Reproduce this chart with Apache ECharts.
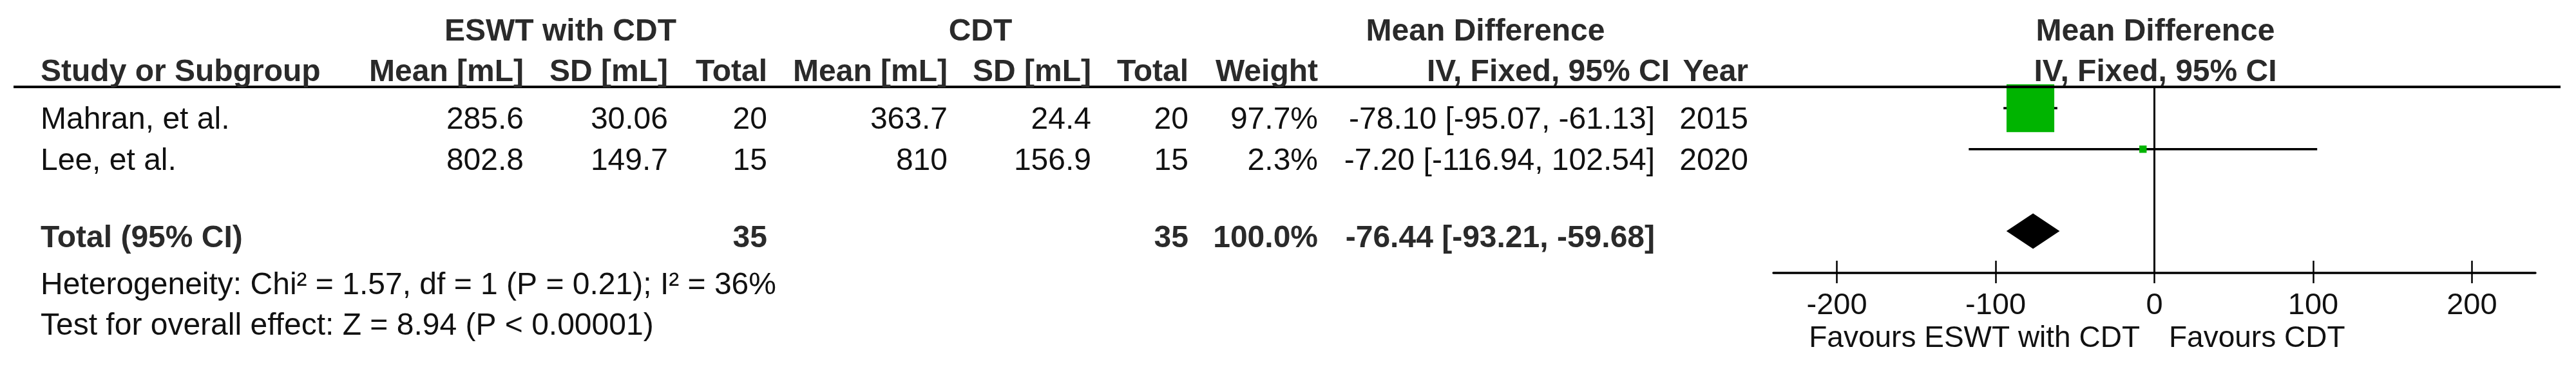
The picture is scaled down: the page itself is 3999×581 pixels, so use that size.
<!DOCTYPE html>
<html><head><meta charset="utf-8">
<script src="https://cdn.jsdelivr.net/npm/echarts@6/dist/echarts.min.js"></script>
<style>html,body{margin:0;padding:0;background:#fff;overflow:hidden}#c{width:3999px;height:581px}</style>
</head><body><div id="c"></div>
<script>
// ---- data ----
const studies = ['Mahran, et al.', 'Lee, et al.'];
const expMean = [285.6, 802.8];
const expSD = [30.06, 149.7];
const expTotal = [20, 15];
const ctrlMean = [363.7, 810];
const ctrlSD = [24.4, 156.9];
const ctrlTotal = [20, 15];
const weight = [97.7, 2.3];
const md = [-78.10, -7.20];
const ciLow = [-95.07, -116.94];
const ciHigh = [-61.13, 102.54];
const years = [2015, 2020];
const totalLabel = 'Total (95% CI)';
const totalExp = 35;
const totalCtrl = 35;
const totalWeight = 100.0;
const pooled = [-76.44, -93.21, -59.68]; // estimate, low, high
const heterogeneity = 'Heterogeneity: Chi\u00b2 = 1.57, df = 1 (P = 0.21); I\u00b2 = 36%';
const overallEffect = 'Test for overall effect: Z = 8.94 (P < 0.00001)';
const tickValues = [-200, -100, 0, 100, 200];
const favourLeft = 'Favours ESWT with CDT';
const favourRight = 'Favours CDT';

// ---- layout ----
const FONT = '"Liberation Sans", Arial, Helvetica, sans-serif';
const FS = 48;
const BOLD_C = '#2a2a2a', REG_C = '#111';
const COL = {study: 63, eMean: 813, eSD: 1037, eTot: 1191, cMean: 1471, cSD: 1694, cTot: 1845,
  weight: 2046, ci: 2569, ciHead: 2592, year: 2714, plotMid: 3346};
const ROW = {head1: 50, head2: 113, first: 187, step: 63.5, total: 371, het: 444, test: 507, favour: 526};

function txt(text, x, y, align, bold, size) {
  return {type: 'text', x: x, y: y, silent: true, z: 10,
    style: {text: String(text), font: (bold ? 'bold ' : '') + (size || FS) + 'px ' + FONT,
      fill: bold ? BOLD_C : REG_C, textAlign: align, textVerticalAlign: 'middle'}};
}
const fmt2 = v => v.toFixed(2);
const g = [];
// header
g.push(txt('ESWT with CDT', 870, ROW.head1, 'center', true));
g.push(txt('CDT', 1522, ROW.head1, 'center', true));
g.push(txt('Mean Difference', 2306, ROW.head1, 'center', true));
g.push(txt('Mean Difference', COL.plotMid, ROW.head1, 'center', true));
g.push(txt('Study or Subgroup', COL.study, ROW.head2, 'left', true));
g.push(txt('Mean [mL]', COL.eMean, ROW.head2, 'right', true));
g.push(txt('SD [mL]', COL.eSD, ROW.head2, 'right', true));
g.push(txt('Total', COL.eTot, ROW.head2, 'right', true));
g.push(txt('Mean [mL]', COL.cMean, ROW.head2, 'right', true));
g.push(txt('SD [mL]', COL.cSD, ROW.head2, 'right', true));
g.push(txt('Total', COL.cTot, ROW.head2, 'right', true));
g.push(txt('Weight', COL.weight, ROW.head2, 'right', true));
g.push(txt('IV, Fixed, 95% CI', COL.ciHead, ROW.head2, 'right', true));
g.push(txt('Year', COL.year, ROW.head2, 'right', true));
g.push(txt('IV, Fixed, 95% CI', COL.plotMid, ROW.head2, 'center', true));
g.push({type: 'line', silent: true, z: 5, shape: {x1: 21, y1: 135, x2: 3975, y2: 135},
  style: {stroke: '#000', lineWidth: 4}});
// rows
studies.forEach((s, i) => {
  const y = ROW.first + i * ROW.step;
  g.push(txt(s, COL.study, y, 'left', false));
  g.push(txt(expMean[i], COL.eMean, y, 'right', false));
  g.push(txt(expSD[i], COL.eSD, y, 'right', false));
  g.push(txt(expTotal[i], COL.eTot, y, 'right', false));
  g.push(txt(ctrlMean[i], COL.cMean, y, 'right', false));
  g.push(txt(ctrlSD[i], COL.cSD, y, 'right', false));
  g.push(txt(ctrlTotal[i], COL.cTot, y, 'right', false));
  g.push(txt(weight[i].toFixed(1) + '%', COL.weight, y, 'right', false));
  g.push(txt(fmt2(md[i]) + ' [' + fmt2(ciLow[i]) + ', ' + fmt2(ciHigh[i]) + ']', COL.ci, y, 'right', false));
  g.push(txt(years[i], COL.year, y, 'right', false));
});
// total
g.push(txt(totalLabel, COL.study, ROW.total, 'left', true));
g.push(txt(totalExp, COL.eTot, ROW.total, 'right', true));
g.push(txt(totalCtrl, COL.cTot, ROW.total, 'right', true));
g.push(txt(totalWeight.toFixed(1) + '%', COL.weight, ROW.total, 'right', true));
g.push(txt(fmt2(pooled[0]) + ' [' + fmt2(pooled[1]) + ', ' + fmt2(pooled[2]) + ']', COL.ci, ROW.total, 'right', true));
g.push(txt(heterogeneity, COL.study, ROW.het, 'left', false));
g.push(txt(overallEffect, COL.study, ROW.test, 'left', false));
g.push(txt(favourLeft, 3322, ROW.favour, 'right', false, 46));
g.push(txt(favourRight, 3367, ROW.favour, 'left', false, 46));

const totalRow = studies.length + 1;
const chart = echarts.init(document.getElementById('c'), null, {renderer: 'canvas'});
chart.setOption({
  animation: false,
  backgroundColor: '#fff',
  grid: {left: 2753, right: 63, top: 135, bottom: 157},
  xAxis: [
    {type: 'value', min: -240, max: 240, position: 'bottom', offset: 0,
      axisLine: {show: true, onZero: false, lineStyle: {color: '#000', width: 3.5}},
      axisTick: {show: true, customValues: tickValues, length: 16, lineStyle: {color: '#000', width: 2.5}},
      axisLabel: {show: true, customValues: tickValues, fontSize: 47, fontFamily: FONT, color: REG_C, margin: 28,
        formatter: v => String(v)},
      splitLine: {show: false}},
    {type: 'value', min: -240, max: 240, position: 'bottom', offset: 0,
      axisLine: {show: false, onZero: false},
      axisTick: {show: true, inside: true, customValues: tickValues, length: 19, lineStyle: {color: '#000', width: 2.5}},
      axisLabel: {show: false}, splitLine: {show: false}}
  ],
  yAxis: {type: 'value', inverse: true, min: -0.52, max: 4.02, show: false},
  graphic: g,
  series: [
    {type: 'custom', silent: true, z: 2, encode: {x: [0, 1], y: 2},
      data: studies.map((s, i) => [ciLow[i], ciHigh[i], i]),
      renderItem: (params, api) => {
        const a = api.coord([api.value(0), api.value(2)]);
        const b = api.coord([api.value(1), api.value(2)]);
        return {type: 'line', shape: {x1: a[0], y1: a[1], x2: b[0], y2: b[1]},
          style: {stroke: '#000', lineWidth: 3.5}};
      }},
    {type: 'scatter', silent: true, z: 3,
      data: studies.map((s, i) => [md[i], i, weight[i]]),
      symbol: 'rect', symbolSize: v => 7.5 * Math.sqrt(v[2]),
      itemStyle: {color: '#00b400', opacity: 1},
      markLine: {silent: true, symbol: ['none', 'none'], label: {show: false},
        lineStyle: {color: '#000', width: 3, type: 'solid'}, data: [{xAxis: 0}]}},
    {type: 'custom', silent: true, z: 3, encode: {x: [0, 1, 2], y: 3},
      data: [[pooled[1], pooled[0], pooled[2], totalRow]],
      renderItem: (params, api) => {
        const l = api.coord([api.value(0), api.value(3)]);
        const c = api.coord([api.value(1), api.value(3)]);
        const r = api.coord([api.value(2), api.value(3)]);
        const h = 27.5;
        return {type: 'polygon', shape: {points: [[l[0], l[1]], [c[0], c[1] - h], [r[0], r[1]], [c[0], c[1] + h]]},
          style: {fill: '#000'}};
      }}
  ]
});
</script></body></html>
